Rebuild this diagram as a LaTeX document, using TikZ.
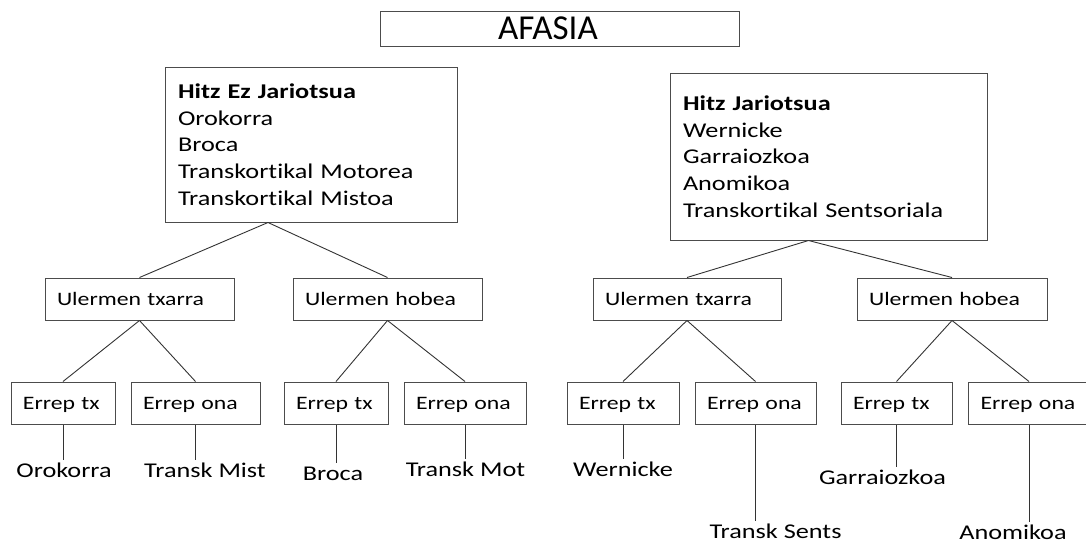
\documentclass[tikz,border=0pt]{standalone}
\usepackage{fontspec}
\setmainfont[Ligatures=NoCommon]{Carlito}
\newfontfamily\zabal[FakeStretch=1.25, Ligatures=NoCommon]{Carlito}

\begin{document}
\begin{tikzpicture}[x=1pt, y=-1pt,
	kutxa/.style={draw=black!70, line width=1pt},
	lerro/.style={draw=black!80, line width=0.9pt},
	txiki/.style={kutxa, font=\zabal\fontsize{19pt}{23pt}\selectfont, align=left, inner xsep=12pt, inner ysep=0pt, text height=12.2pt, text depth=0pt, minimum height=42pt},
	hosto/.style={font=\zabal\fontsize{21pt}{25pt}\selectfont, inner sep=4pt, text height=13.5pt, text depth=0pt}]
	\useasboundingbox (0,0) rectangle (1086,544);
	% goiburua
	\node[kutxa, font=\fontsize{35pt}{40pt}\selectfont, text width=123pt, align=left, inner xsep=118pt, inner ysep=0pt, text height=22.5pt, text depth=0pt, minimum height=35pt] (afasia) at (559.5,28.5) {AFASIA};
	% bi talde nagusiak
	\node[kutxa, font=\zabal\fontsize{21pt}{26.7pt}\selectfont, text width=266pt, align=left, inner xsep=13pt, minimum height=155pt] (ezjar) at (311,144.5) {\textbf{Hitz Ez Jariotsua}\\ Orokorra\\ Broca\\ Transkortikal Motorea\\ Transkortikal Mistoa};
	\node[kutxa, font=\zabal\fontsize{21pt}{26.7pt}\selectfont, text width=291pt, align=left, inner xsep=13pt, minimum height=167pt] (jar) at (828.5,156.5) {\textbf{Hitz Jariotsua}\\ Wernicke\\ Garraiozkoa\\ Anomikoa\\ Transkortikal Sentsoriala};
	\coordinate (ezbe) at ([xshift=-43pt]ezjar.south);
	\coordinate (jarbe) at ([xshift=-20pt]jar.south);
	% ulermena
	\node[txiki, text width=165pt] (ut1) at (139.5,299) {Ulermen txarra};
	\node[txiki, text width=165pt] (uh1) at (387.5,299) {Ulermen hobea};
	\node[txiki, text width=164pt] (ut2) at (687,299) {Ulermen txarra};
	\node[txiki, text width=166pt] (uh2) at (952,299) {Ulermen hobea};
	\draw[lerro] (ezbe) -- (ut1.north);
	\draw[lerro] (ezbe) -- (uh1.north);
	\draw[lerro] (jarbe) -- (ut2.north);
	\draw[lerro] (jarbe) -- (uh2.north);
	% errepikapena eta afasia motak
	\foreach \i/\x/\w/\p/\t/\hitz/\hx/\hy in {
		1/63/80pt/ut1/tx/Orokorra/64/470.5,
		2/195.5/105pt/ut1/ona/Transk Mist/205/471,
		3/336/80pt/uh1/tx/Broca/333/473.5,
		4/465/98pt/uh1/ona/Transk Mot/465.5/470,
		5/623/88pt/ut2/tx/Wernicke/623/470,
		6/755.5/97pt/ut2/ona/Transk Sents/775.5/532,
		7/896.5/87pt/uh2/tx/Garraiozkoa/882.5/477.5,
		8/1029/97pt/uh2/ona/Anomikoa/1013/532.5} {
		\node[txiki, text width=\w] (e\i) at (\x,403) {Errep \t};
		\node[hosto] (h\i) at (\hx,\hy) {\hitz};
		\draw[lerro] (\p.south) -- (e\i.north);
		\draw[lerro] (e\i.south) -- (e\i.south |- h\i.north);
	}
\end{tikzpicture}
\end{document}
